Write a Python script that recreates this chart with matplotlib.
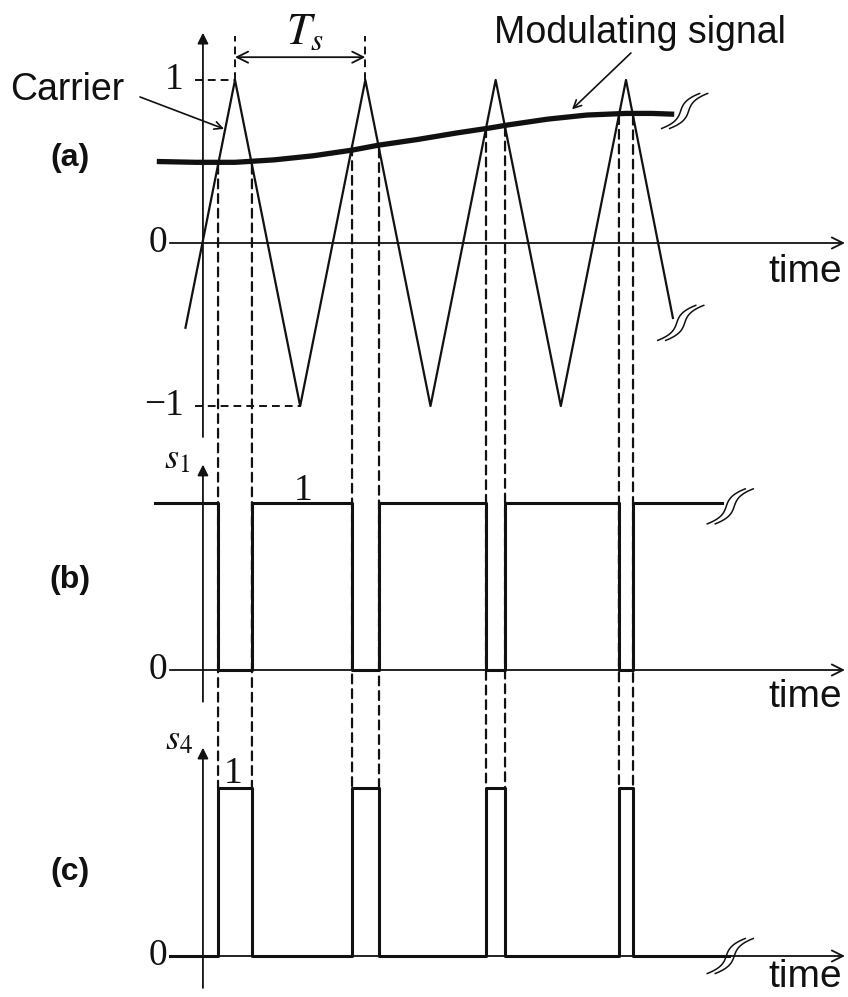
import numpy as np
import matplotlib
matplotlib.use("Agg")
import matplotlib.pyplot as plt
from matplotlib.patches import ConnectionPatch
from matplotlib import transforms

# ---------------- data (time in units of Ts) ----------------
carrier_t = [-0.38, 0.0, 0.5, 1.0, 1.5, 2.0, 2.5, 3.0, 3.36]
carrier_v = [-0.52, 1.0, -1.0, 1.0, -1.0, 1.0, -1.0, 1.0, -0.46]

mod_t = [-0.60, -0.30, 0.00, 0.30, 0.60, 0.90, 1.10, 1.40, 1.70, 1.95,
         2.10, 2.40, 2.70, 3.00, 3.20, 3.37]
mod_v = [0.500, 0.495, 0.495, 0.510, 0.535, 0.570, 0.600, 0.635, 0.675, 0.705,
         0.725, 0.760, 0.785, 0.795, 0.795, 0.790]

# instants where the carrier crosses the modulating signal
switch_t = [-0.130, 0.130, 0.898, 1.105, 1.926, 2.072, 2.946, 3.054]
s1_span = [-0.61, 3.74]
s4_span = [-0.50, 3.79]

# ---------------- styling ----------------
plt.rcParams["mathtext.fontset"] = "stix"
SANS = "Liberation Sans"
SERIF = "Liberation Serif"
INK = "#111111"

W, H = 848, 997
fig = plt.figure(figsize=(W / 100, H / 100), dpi=100)
fig.patch.set_facecolor("white")

XL = (-235 / 130.33, (848 - 235) / 130.33)


def make_axes(py0, py1, y0px, scale):
    ax = fig.add_axes([0, 1 - py1 / H, 1, (py1 - py0) / H])
    ax.set_xlim(*XL)
    ax.set_ylim((y0px - py1) / scale, (y0px - py0) / scale)
    ax.axis("off")
    return ax


axA = make_axes(0, 440, 243, 163)
axB = make_axes(440, 720, 670, 167)
axC = make_axes(720, 997, 956, 168)

T_AXIS = -0.246
T_H0, T_H1 = -0.50, 4.68


def v_axis(ax, ylo, yhi):
    ax.annotate("", xy=(T_AXIS, yhi), xytext=(T_AXIS, ylo),
                arrowprops=dict(arrowstyle="-|>", lw=1.3, color=INK,
                                mutation_scale=16, shrinkA=0, shrinkB=0),
                annotation_clip=False)


def h_axis(ax):
    ax.annotate("", xy=(T_H1, 0), xytext=(T_H0, 0),
                arrowprops=dict(arrowstyle="->", lw=1.3, color=INK,
                                mutation_scale=20, shrinkA=0, shrinkB=0),
                annotation_clip=False)


def brk(ax, t, v):
    tr = fig.dpi_scale_trans + transforms.ScaledTranslation(t, v, ax.transData)
    u = np.linspace(-1, 1, 80)
    x = 0.13 * u ** 3 + 0.06 * u
    y = 0.175 * u
    for dx in (-0.04, 0.04):
        ax.plot(x + dx, y, color=INK, lw=1.1, transform=tr, clip_on=False)


# ---------------- panel (a) ----------------
v_axis(axA, -1.19, 1.29)
h_axis(axA)
axA.plot(carrier_t, carrier_v, color=INK, lw=1.6, clip_on=False)
axA.plot(mod_t, mod_v, color=INK, lw=3.8, clip_on=False, solid_capstyle="butt")

dash = (0, (4, 2.6))
axA.plot([-0.307, 0.0], [1, 1], color=INK, lw=1.4, ls=dash, clip_on=False)
axA.plot([-0.307, 0.5], [-1, -1], color=INK, lw=1.4, ls=dash, clip_on=False)
for tp in (0.0, 1.0):
    axA.plot([tp, tp], [1.0, 1.27], color=INK, lw=1.4, ls=dash, clip_on=False)
axA.annotate("", xy=(1.0, 1.14), xytext=(0.0, 1.14),
             arrowprops=dict(arrowstyle="<->", lw=1.3, color=INK,
                             mutation_scale=20, shrinkA=0, shrinkB=0),
             annotation_clip=False)
axA.text(0.54, 1.30, r"$T_s$", fontsize=32, ha="center", va="center", color=INK)

axA.text(-0.395, 1.0, "1", family=SERIF, fontsize=27, ha="right", va="center", color=INK)
axA.text(-0.52, 0.0, "0", family=SERIF, fontsize=27, ha="right", va="center", color=INK)
axA.text(-0.395, -1.0, "\u22121", family=SERIF, fontsize=27, ha="right", va="center", color=INK)
axA.text(4.657, -0.175, "time", family=SANS, fontsize=28, ha="right", va="center", color=INK)
axA.text(-1.265, 0.52, "(a)", family=SANS, fontsize=23, weight="bold",
         ha="center", va="center", color=INK)

axA.text(-1.726, 0.877, "Carrier", family=SANS, fontsize=27,
         ha="left", va="baseline", color=INK)
axA.annotate("", xy=(-0.084, 0.70), xytext=(-0.729, 0.896),
             arrowprops=dict(arrowstyle="->", lw=1.2, color=INK, mutation_scale=14,
                             shrinkA=0, shrinkB=0),
             annotation_clip=False)
axA.text(3.108, 1.227, "Modulating signal", family=SANS, fontsize=27,
         ha="center", va="baseline", color=INK)
axA.annotate("", xy=(2.586, 0.82), xytext=(3.038, 1.166),
             arrowprops=dict(arrowstyle="->", lw=1.2, color=INK, mutation_scale=14,
                             shrinkA=0, shrinkB=0),
             annotation_clip=False)

brk(axA, 3.45, 0.81)
brk(axA, 3.42, -0.49)

# ---------------- switching signals ----------------
n = len(switch_t)
s1_x = [s1_span[0]] + switch_t + [s1_span[1]]
s1_y = [1 if i % 2 == 0 else 0 for i in range(n + 1)] + [1]
s4_x = [s4_span[0]] + switch_t + [s4_span[1]]
s4_y = [1 - v for v in s1_y]

# dashed projection lines from the crossings down to panel (c)
cross_v = np.interp(switch_t, carrier_t, carrier_v)
for t, cv in zip(switch_t, cross_v):
    con = ConnectionPatch(xyA=(t, cv), coordsA=axA.transData,
                          xyB=(t, 1.0), coordsB=axC.transData,
                          color=INK, lw=1.6, ls=dash, zorder=0.5)
    fig.add_artist(con)

# ---------------- panel (b) ----------------
v_axis(axB, -0.19, 1.23)
h_axis(axB)
axB.step(s1_x, s1_y, where="post", color=INK, lw=2.2, clip_on=False)
axB.text(-0.345, 1.21, r"$s_1$", fontsize=26, ha="right", va="baseline", color=INK)
axB.text(0.52, 1.02, "1", family=SERIF, fontsize=27, ha="center", va="baseline", color=INK)
axB.text(-0.52, 0.0, "0", family=SERIF, fontsize=27, ha="right", va="center", color=INK)
axB.text(4.657, -0.16, "time", family=SANS, fontsize=28, ha="right", va="center", color=INK)
axB.text(-1.265, 0.54, "(b)", family=SANS, fontsize=23, weight="bold",
         ha="center", va="center", color=INK)
brk(axB, 3.80, 0.98)

# ---------------- panel (c) ----------------
v_axis(axC, -0.19, 1.24)
h_axis(axC)
axC.step(s4_x, s4_y, where="post", color=INK, lw=2.2, clip_on=False)
axC.text(-0.32, 1.23, r"$s_4$", fontsize=26, ha="right", va="baseline", color=INK)
axC.text(-0.015, 1.03, "1", family=SERIF, fontsize=27, ha="center", va="baseline", color=INK)
axC.text(-0.52, 0.0, "0", family=SERIF, fontsize=27, ha="right", va="center", color=INK)
axC.text(4.657, -0.125, "time", family=SANS, fontsize=28, ha="right", va="center", color=INK)
axC.text(-1.265, 0.50, "(c)", family=SANS, fontsize=23, weight="bold",
         ha="center", va="center", color=INK)
brk(axC, 3.80, 0.0)

fig.savefig("out.png", dpi=100, facecolor="white")
